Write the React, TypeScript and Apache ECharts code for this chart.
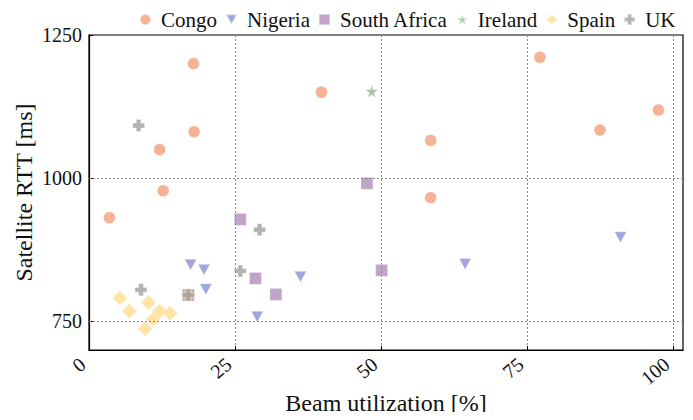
import React, { useEffect, useRef } from "react";
import * as echarts from "echarts";

const congo: number[][] = [
  [3.5, 931], [12.1, 1050], [12.7, 978], [17.9, 1200], [18.0, 1081], [17.0, 796],
  [39.8, 1150], [58.5, 1066], [58.5, 966], [77.2, 1211], [87.5, 1084], [97.5, 1119],
];
const nigeria: number[][] = [
  [17.4, 849], [19.7, 840], [20.0, 806], [28.8, 758], [36.2, 828], [64.4, 850], [91.0, 897],
];
const southAfrica: number[][] = [
  [17.0, 796], [25.9, 928], [28.5, 825], [32.0, 797], [47.6, 991], [50.1, 839],
];
const ireland: number[][] = [[48.4, 1152]];
const spain: number[][] = [
  [5.3, 791], [6.9, 768], [10.2, 783], [12.1, 768], [13.9, 764], [11.0, 754], [9.6, 737], [17.0, 796],
];
const uk: number[][] = [
  [8.5, 1092], [8.9, 805], [29.2, 910], [25.9, 838], [17.0, 796],
];
const xTicks = [0, 25, 50, 75, 100];
const yTicks = [750, 1000, 1250];
const yGrid = [750, 1000];

const FONT = "'Liberation Serif', 'DejaVu Serif', serif";
const TRI = "path://M0,0 L10,0 L5,9 Z";
const STAR = "path://M50,0 L61,35 L98,35 L68,57 L79,91 L50,70 L21,91 L32,57 L2,35 L39,35 Z";
const PLUS = "path://M3,0 H7 V3 H10 V7 H7 V10 H3 V7 H0 V3 H3 Z";

export default function App() {
  const ref = useRef<HTMLDivElement>(null);
  useEffect(() => {
    const chart = echarts.init(ref.current!, null, { renderer: "svg" });
    const mk = (name: string, data: number[][], symbol: string, size: any, color: string, opacity: number, extra: any = {}) => ({
      name,
      type: "scatter",
      data,
      symbol,
      symbolSize: size,
      itemStyle: { color, opacity, borderColor: "rgba(255,255,255,0.6)", borderWidth: 0.8 },
      ...extra,
    });
    chart.setOption({
      animation: false,
      textStyle: { fontFamily: FONT },
      legend: {
        left: 134,
        top: 4,
        itemWidth: 11,
        itemHeight: 11,
        itemGap: 8,
        textStyle: { fontFamily: FONT, fontSize: 21, color: "#111", padding: [0, 0, 0, 5] },
        data: [
          { name: "Congo", icon: "circle" },
          { name: "Nigeria", icon: TRI },
          { name: "South Africa", icon: "rect" },
          { name: "Ireland", icon: STAR },
          { name: "Spain", icon: "diamond" },
          { name: "UK", icon: PLUS },
        ],
      },
      grid: { left: 89, right: 10, top: 35, bottom: 68, show: true, borderColor: "#000", borderWidth: 1.2 },
      xAxis: {
        type: "value",
        min: 0,
        max: 101.7,
        interval: 25,
        name: "Beam utilization [%]",
        nameLocation: "middle",
        nameGap: 41,
        nameMoveOverlap: false,
        nameTextStyle: { fontFamily: FONT, fontSize: 24, color: "#111" },
        axisLine: { lineStyle: { color: "#000", width: 1.2 } },
        axisTick: { inside: true, length: 4, lineStyle: { color: "#000" }, customValues: xTicks },
        axisLabel: {
          rotate: 40, align: "right", verticalAlign: "bottom",
          fontFamily: FONT, fontSize: 20, color: "#111", margin: 19,
          customValues: xTicks, formatter: (v: number) => String(v),
        },
        splitLine: { show: true, lineStyle: { color: "#888", type: [2, 2], width: 1 } },
      },
      yAxis: {
        type: "value",
        min: 700,
        max: 1250,
        interval: 50,
        name: "Satellite RTT [ms]",
        nameLocation: "middle",
        nameGap: 53,
        nameMoveOverlap: false,
        nameTextStyle: { fontFamily: FONT, fontSize: 24, color: "#111" },
        axisLine: { show: true, lineStyle: { color: "#000", width: 1.2 } },
        axisTick: { inside: true, length: 4, lineStyle: { color: "#000" }, customValues: yTicks },
        axisLabel: { fontFamily: FONT, fontSize: 20, color: "#111", margin: 7, customValues: yTicks, formatter: (v: number) => String(v) },
        splitLine: { show: false },
      },
      series: [
        mk("Congo", congo, "circle", 12, "#f4a582", 0.85, {
          markLine: {
            silent: true,
            symbol: "none",
            label: { show: false },
            lineStyle: { color: "#888", type: [2, 2], width: 1 },
            data: yGrid.map((v) => ({ yAxis: v })),
          },
        }),
        mk("Nigeria", nigeria, TRI, [12, 11], "#8088d0", 0.75),
        mk("South Africa", southAfrica, "rect", 12, "#a77fb0", 0.7),
        mk("Ireland", ireland, STAR, 13, "#7fae7f", 0.7),
        mk("Spain", spain, "diamond", 15, "#ffd980", 0.7),
        mk("UK", uk, PLUS, 12, "#999999", 0.75),
      ],
    });
    return () => chart.dispose();
  }, []);
  return <div ref={ref} style={{ width: 693, height: 420, margin: -8 }} />;
}
